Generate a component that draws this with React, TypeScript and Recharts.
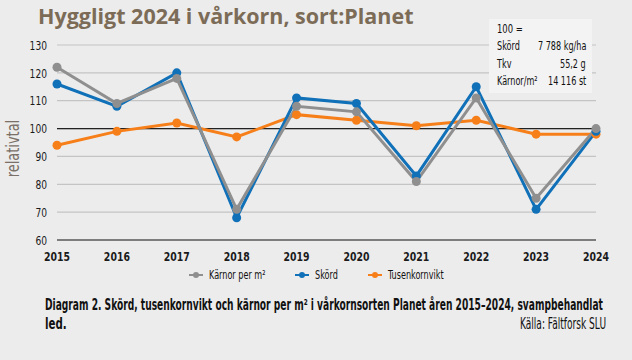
// Hyggligt 2024 i vårkorn – relativtal per år
import { useLayoutEffect, useRef, useState } from 'react';
import { LineChart, Line, XAxis, YAxis, CartesianGrid, ReferenceLine, Label } from 'recharts';

const years = ['2015', '2016', '2017', '2018', '2019', '2020', '2021', '2022', '2023', '2024'];
const karnor = [122, 109, 118, 71, 108, 106, 81, 111, 75, 100];
const skord = [116, 108, 120, 68, 111, 109, 83, 115, 71, 99];
const tkv = [94, 99, 102, 97, 105, 103, 101, 103, 98, 98];
const yTicks = [60, 70, 80, 90, 100, 110, 120, 130];

const series = [
  { key: 'karnor', name: 'Kärnor per m²', color: '#8f8f8f' },
  { key: 'skord', name: 'Skörd', color: '#1070b8' },
  { key: 'tkv', name: 'Tusenkornvikt', color: '#f77f1a' },
];

const infoRows = [
  ['Skörd', '7 788 kg/ha'],
  ['Tkv', '55,2 g'],
  ['Kärnor/m²', '14 116 st'],
];

const data = years.map((y, i) => ({ year: y, karnor: karnor[i], skord: skord[i], tkv: tkv[i] }));

const cond = { fontFamily: '"DejaVu Sans", sans-serif', fontStretch: 'condensed' as const };

// squeeze text horizontally, either by a factor or to a target width
function Narrow({ children, sx, fit, style }: { children: any; sx?: number; fit?: number; style?: any }) {
  const ref = useRef<HTMLSpanElement>(null);
  const [k, setK] = useState(sx ?? 1);
  const [w, setW] = useState<number | undefined>(undefined);
  useLayoutEffect(() => {
    if (!ref.current) return;
    const nat = ref.current.offsetWidth;
    const f = fit ? fit / nat : sx ?? 1;
    setK(f);
    setW(nat * f);
  }, []);
  return (
    <span style={{ display: 'inline-block', width: w, whiteSpace: 'nowrap', ...style }}>
      <span ref={ref} style={{ display: 'inline-block', transform: `scaleX(${k})`, transformOrigin: 'left center' }}>
        {children}
      </span>
    </span>
  );
}

function XTick({ x, y, payload }: any) {
  return (
    <g transform={`translate(${x},${y})`}>
      <text transform="scale(0.8,1)" textAnchor="middle" dy="0.71em" fill="#1a1a1a" fontSize={13} fontWeight={700} style={cond}>
        {payload.value}
      </text>
    </g>
  );
}

function YTick({ x, y, payload }: any) {
  return (
    <g transform={`translate(${x},${y})`}>
      <text transform="scale(0.78,1)" textAnchor="end" dy="0.36em" fill="#1a1a1a" fontSize={13} style={cond}>
        {payload.value}
      </text>
    </g>
  );
}

export default function App() {
  return (
    <div style={{ position: 'absolute', left: 0, top: 0, width: 632, height: 360, background: '#ececec', overflow: 'hidden' }}>
      <div style={{ position: 'absolute', left: 38, top: 0, fontFamily: '"Open Sans", sans-serif', fontWeight: 700, fontSize: 22, color: '#7b6b57' }}>
        <Narrow fit={375}>Hyggligt 2024 i vårkorn, sort:Planet</Narrow>
      </div>

      <LineChart width={632} height={290} data={data} margin={{ top: 45, right: 36, left: 17, bottom: 30 }} style={{ position: 'absolute', left: 0, top: 0 }}>
        <CartesianGrid vertical={false} stroke="#c4c4c4" strokeWidth={1.2} />
        <XAxis
          dataKey="year"
          height={20}
          axisLine={{ stroke: '#222', strokeWidth: 1.2 }}
          tickLine={false}
          tickMargin={6}
          interval={0}
          tick={<XTick />}
        />
        <YAxis domain={[60, 130]} ticks={yTicks} width={40} axisLine={false} tickLine={false} tickSize={0} tickMargin={10} tick={<YTick />}>
          <Label
            content={({ viewBox }: any) => {
              const cy = viewBox.y + viewBox.height / 2 + 6;
              return (
                <text x={13} y={cy} transform={`rotate(-90 13 ${cy}) translate(13 ${cy}) scale(0.8 1) translate(-13 ${-cy})`} textAnchor="middle" dominantBaseline="central" fill="#7a7068" fontSize={18} style={cond}>
                  relativtal
                </text>
              );
            }}
          />
        </YAxis>
        <ReferenceLine y={100} stroke="#222" strokeWidth={1.2} />
        {[...series].reverse().map((s) => (
          <Line
            key={s.key}
            dataKey={s.key}
            name={s.name}
            stroke={s.color}
            strokeWidth={3}
            dot={{ r: 4.5, fill: s.color, stroke: s.color, strokeWidth: 0 }}
            isAnimationActive={false}
          />
        ))}
      </LineChart>

      {/* 100 = ruta */}
      <div style={{ position: 'absolute', left: 489, top: 19, width: 103, height: 74, background: '#f3f3f3', ...cond, fontSize: 12.5, color: '#111', boxSizing: 'border-box', padding: '1px 6px 0 8px', lineHeight: '17.3px' }}>
        <div><Narrow sx={0.75}>100 =</Narrow></div>
        {infoRows.map(([k, v]) => (
          <div key={k} style={{ display: 'flex', justifyContent: 'space-between' }}>
            <Narrow sx={0.72}>{k}</Narrow>
            <Narrow sx={0.72}>{v}</Narrow>
          </div>
        ))}
      </div>

      {/* legend */}
      <div style={{ position: 'absolute', left: 0, top: 267, width: 632, display: 'flex', justifyContent: 'center', gap: 30, ...cond, fontSize: 12, color: '#111', lineHeight: '16px' }}>
        {series.map((s) => (
          <div key={s.key} style={{ display: 'flex', alignItems: 'center', gap: 6 }}>
            <svg width={14} height={8}>
              <line x1={0} y1={4} x2={14} y2={4} stroke={s.color} strokeWidth={2} />
              <circle cx={7} cy={4} r={3} fill={s.color} />
            </svg>
            <Narrow sx={0.75}>{s.name}</Narrow>
          </div>
        ))}
      </div>

      {/* caption */}
      <div style={{ position: 'absolute', left: 45, top: 296, ...cond, fontWeight: 700, fontSize: 15, color: '#111', lineHeight: '19px' }}>
        <div><Narrow fit={558}>Diagram 2. Skörd, tusenkornvikt och kärnor per m² i vårkornsorten Planet åren 2015–2024, svampbehandlat</Narrow></div>
        <div><Narrow sx={0.76}>led.</Narrow></div>
      </div>
      <div style={{ position: 'absolute', left: 520, top: 315, ...cond, fontSize: 15, color: '#111', lineHeight: '19px' }}>
        <Narrow fit={86}>Källa: Fältforsk SLU</Narrow>
      </div>
    </div>
  );
}
